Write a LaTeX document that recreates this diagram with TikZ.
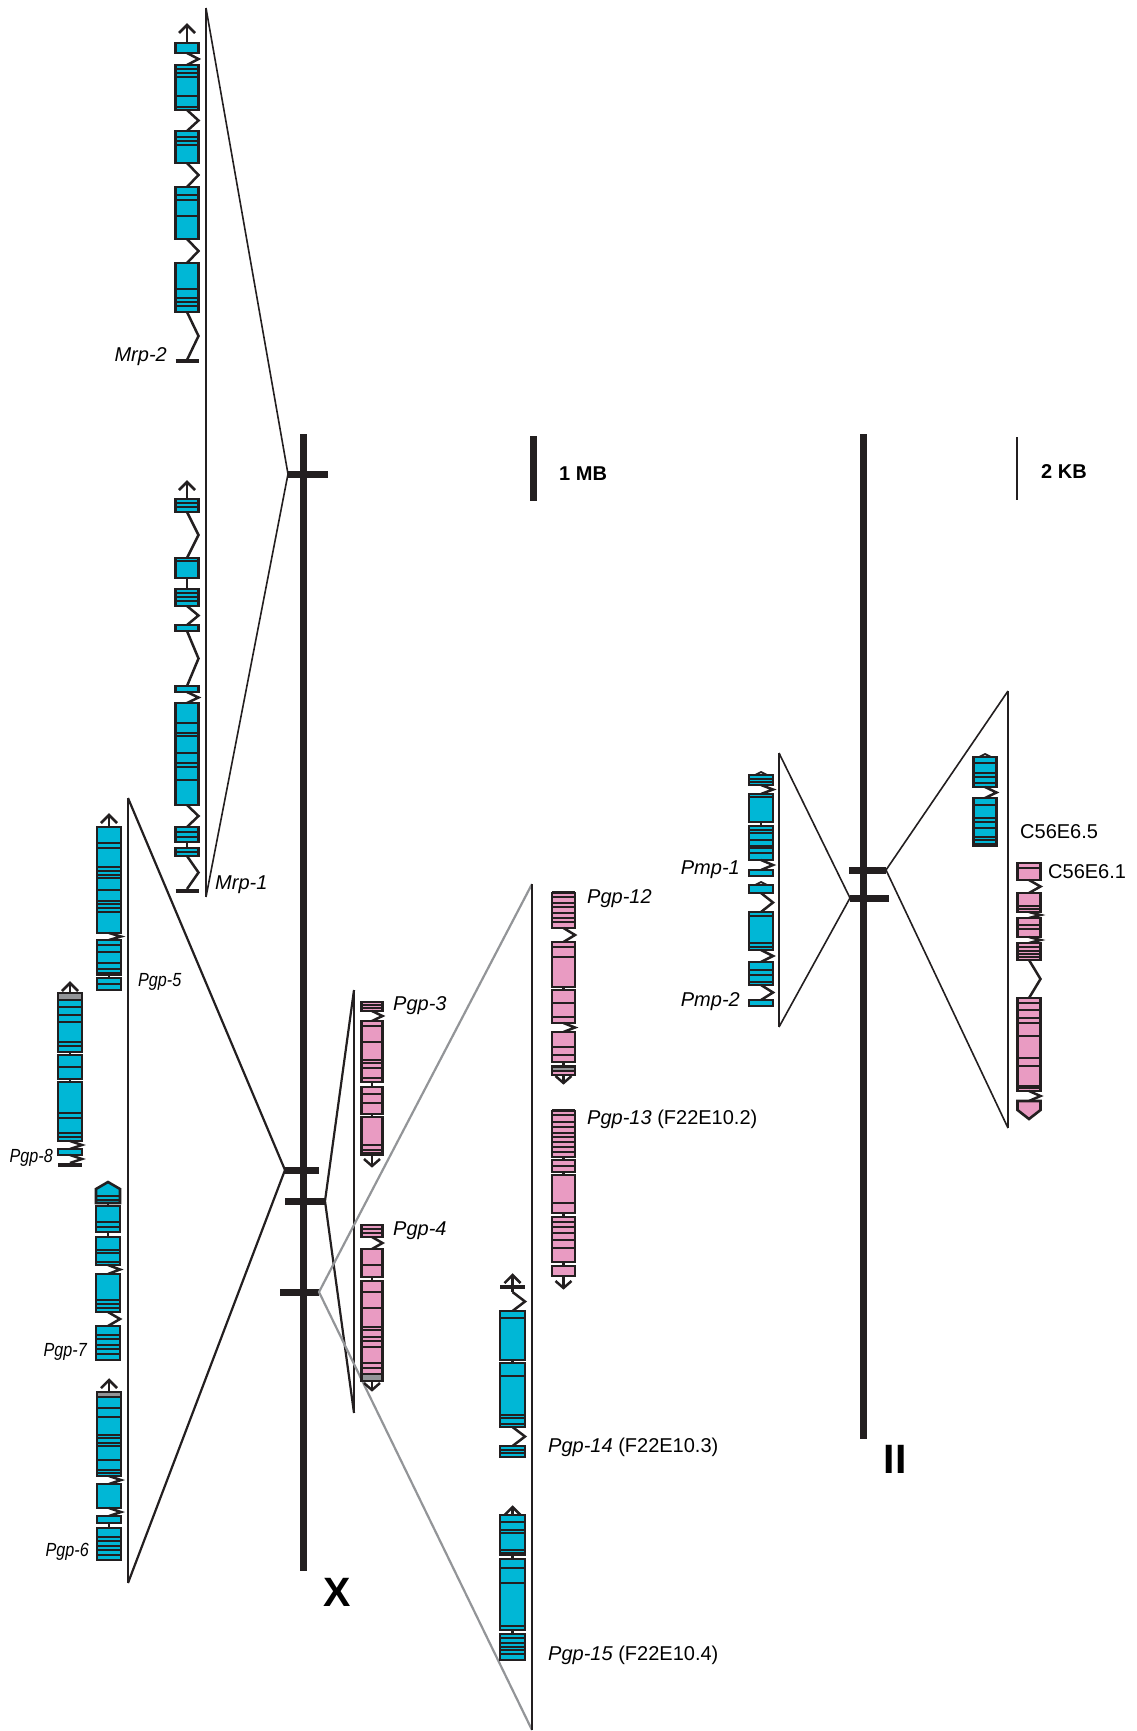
\documentclass[tikz,border=0pt]{standalone}
\usepackage{fontspec}
\setmainfont{Liberation Sans}
\definecolor{cy}{HTML}{00B7D6}
\definecolor{pk}{HTML}{E99BC2}
\definecolor{dk}{HTML}{231F20}
\definecolor{gr}{HTML}{939598}
\tikzset{
  chrom/.style={line width=7pt, draw=dk},
  tickbar/.style={line width=7pt, draw=dk},
  tri/.style={line width=1.6pt, draw=dk},
  trivert/.style={line width=2.2pt, draw=dk},
  graytri/.style={line width=2.2pt, draw=gr},
  exonline/.style={line width=2.6pt, draw=dk, line join=miter},
  stripe/.style={line width=1.9pt, draw=dk},
  intronline/.style={line width=2.5pt, draw=dk, line join=miter},
  lab/.style={font=\fontsize{20}{22}\selectfont\itshape, inner sep=0pt},
  labu/.style={font=\fontsize{20}{22}\selectfont, inner sep=0pt},
  labs/.style={font=\fontsize{19}{21}\selectfont\itshape, inner sep=0pt},
  scalelab/.style={font=\fontsize{20}{22}\selectfont\bfseries, inner sep=0pt},
  chromlab/.style={font=\fontsize{41}{44}\selectfont\bfseries, inner sep=0pt}
}
\def\gcol{cy}
\def\ghw{12}
\newcommand\gex[4]{%
  \fill[fill=\gcol] ({#1-\ghw},#2) rectangle ({#1+\ghw},#3);
  \foreach \sy in {#4}{\draw[stripe] ({#1-\ghw},\sy) -- ({#1+\ghw},\sy);}
  \draw[exonline] ({#1-\ghw},#2) rectangle ({#1+\ghw},#3);}
\newcommand\gexn[3]{%
  \filldraw[exonline, fill=\gcol] ({#1-\ghw},#2) rectangle ({#1+\ghw},#3);}
\newcommand\gband[3]{%
  \filldraw[exonline, fill=gr] ({#1-\ghw},#2) rectangle ({#1+\ghw},#3);}
\newcommand\gint[3]{\draw[intronline] (#1,#2) -- ({#1+\ghw},{(#2+#3)/2}) -- (#1,#3);}
\newcommand\gln[3]{\draw[intronline] (#1,#2) -- (#1,#3);}
\newcommand\gup[3]{%
  \draw[intronline] (#1,#3) -- (#1,#2);
  \draw[intronline] ({#1-8},{#2+8}) -- (#1,#2) -- ({#1+8},{#2+8});}
\newcommand\gdn[3]{%
  \draw[intronline] (#1,#2) -- (#1,#3);
  \draw[intronline] ({#1-8},{#3-7}) -- (#1,#3) -- ({#1+8},{#3-7});}
\newcommand\gsm[2]{%
  \draw[intronline, line width=1.8pt] ({#1-6},{#2+3}) -- (#1,#2) -- ({#1+6},{#2+3});}
\newcommand\gbar[2]{\draw[line width=4.5pt, draw=dk] ({#1-\ghw},#2) -- ({#1+\ghw},#2);}
\newcommand\gpentup[5]{%
  \fill[fill=\gcol] ({#1-\ghw},#4) -- ({#1-\ghw},#3) -- (#1,#2) -- ({#1+\ghw},#3) -- ({#1+\ghw},#4) -- cycle;
  \foreach \sy in {#5}{\draw[stripe] ({#1-\ghw},\sy) -- ({#1+\ghw},\sy);}
  \draw[exonline] ({#1-\ghw},#4) -- ({#1-\ghw},#3) -- (#1,#2) -- ({#1+\ghw},#3) -- ({#1+\ghw},#4) -- cycle;}
\newcommand\gpentdn[4]{%
  \filldraw[exonline, fill=\gcol] ({#1-\ghw},#2) -- ({#1-\ghw},#3) -- (#1,#4) -- ({#1+\ghw},#3) -- ({#1+\ghw},#2) -- cycle;}
\begin{document}
\begin{tikzpicture}[x=1pt,y=-1pt]
\useasboundingbox (0,0) rectangle (1136,1731);
% chromosomes
\coordinate (Xtop) at (303,434);
\coordinate (Xbot) at (303,1571);
\coordinate (IItop) at (863,434);
\coordinate (IIbot) at (863,1439);
\draw[chrom] (Xtop) -- (Xbot);
\draw[chrom] (IItop) -- (IIbot);
% ticks on X
\coordinate (t1L) at (288,474);  \coordinate (t1R) at (328,474);
\coordinate (t2L) at (285,1170); \coordinate (t2R) at (319,1170);
\coordinate (t3L) at (285,1201); \coordinate (t3R) at (325,1201);
\coordinate (t4L) at (280,1292); \coordinate (t4R) at (319,1292);
\draw[tickbar] (t1L) -- (t1R);
\draw[tickbar] (t2L) -- (t2R);
\draw[tickbar] (t3L) -- (t3R);
\draw[tickbar] (t4L) -- (t4R);
% ticks on II
\coordinate (u1L) at (849,870); \coordinate (u1R) at (886,870);
\coordinate (u2L) at (850,898); \coordinate (u2R) at (889,898);
\draw[tickbar] (u1L) -- (u1R);
\draw[tickbar] (u2L) -- (u2R);
% scale bars
\coordinate (s1a) at (533,436); \coordinate (s1b) at (533,501);
\draw[line width=7pt, draw=dk] (s1a) -- (s1b);
\coordinate (s2a) at (1017,437); \coordinate (s2b) at (1017,500);
\draw[line width=2pt, draw=dk] (s2a) -- (s2b);
\node[scalelab, anchor=west] (mb) at (559,474) {1 MB};
\node[scalelab, anchor=west] (kb) at (1041,472) {2 KB};
\node[chromlab] (lX) at (337,1592) {X};
\node[chromlab] (lII) at (895,1459) {II};
% triangles
\coordinate (mA) at (206,8); \coordinate (mB) at (206,897);
\draw[trivert] (mA) -- (mB);
\draw[tri] (mA) -- (t1L) -- (mB);
\coordinate (pA) at (128,798); \coordinate (pB) at (128,1583);
\draw[trivert] (pA) -- (pB);
\draw[line width=2.2pt, draw=dk] (pA) -- (t2L) -- (pB);
\coordinate (qA) at (354,990); \coordinate (qB) at (354,1413);
\draw[trivert] (qA) -- (qB);
\draw[line width=2.2pt, draw=dk] (qA) -- (t3R) -- (qB);
\coordinate (rA) at (532,884); \coordinate (rB) at (532,1730);
\draw[graytri] (rA) -- (t4R) -- (rB);
\draw[trivert] (rA) -- (rB);
\coordinate (vA) at (779,753); \coordinate (vB) at (779,1027);
\draw[trivert] (vA) -- (vB);
\draw[tri] (vA) -- (u2L) -- (vB);
\coordinate (wA) at (1008,691); \coordinate (wB) at (1008,1128);
\draw[trivert] (wA) -- (wB);
\draw[tri] (wA) -- (u1R) -- (wB);
% ===== cyan genes =====
\def\gcol{cy}\def\ghw{11.5}
% Mrp-2
\gup{187}{25}{43}
\gexn{187}{43}{53}
\gint{187}{53}{65}
\gex{187}{65}{110}{69,73,77,96,107}
\gint{187}{110}{131}
\gex{187}{131}{163}{137,141,145}
\gint{187}{163}{187}
\gex{187}{187}{239}{195,200,216}
\gint{187}{239}{263}
\gex{187}{263}{312}{289,298,302,306}
\gint{187}{312}{360}
\gbar{187}{361}
% Mrp-1
\gup{187}{482}{499}
\gex{187}{499}{512}{503,507}
\gint{187}{512}{558}
\gex{187}{558}{578}{561}
\gln{187}{578}{589}
\gex{187}{589}{606}{593,597,601}
\gint{187}{606}{625}
\gexn{187}{625}{631}
\gint{187}{631}{686}
\gexn{187}{686}{692}
\gint{187}{692}{703}
\gex{187}{703}{805}{723,733,736,753,763,767,780}
\gint{187}{805}{827}
\gex{187}{827}{842}{832,837}
\gln{187}{842}{848}
\gex{187}{848}{856}{852}
\gint{187}{856}{889}
\gbar{187}{891}
% Pgp-5
\def\ghw{12}
\gup{109}{815}{827}
\gex{109}{827}{933}{843,848,867,871,875,878,890,901,904,908,912}
\gint{109}{933}{940}
\gex{109}{940}{975}{945,952,963,969,973}
\gln{109}{975}{978}
\gex{109}{978}{990}{984}
% Pgp-8
\gup{70}{983}{993}
\gex{70}{993}{1052}{1000,1007,1015,1022,1042,1046}
\gband{70}{993}{1000}
\gln{70}{1052}{1055}
\gex{70}{1055}{1079}{1067}
\gln{70}{1079}{1082}
\gex{70}{1082}{1141}{1113,1118,1133,1137}
\gint{70}{1141}{1149}
\gexn{70}{1149}{1155}
\gint{70}{1155}{1163}
\gbar{70}{1165}
% Pgp-7
\gpentup{108}{1182}{1189}{1203}{1196,1200}
\gln{108}{1203}{1206}
\gex{108}{1206}{1232}{1222,1227}
\gln{108}{1232}{1237}
\gex{108}{1237}{1265}{1250,1253,1262}
\gint{108}{1265}{1274}
\gex{108}{1274}{1312}{1300,1304,1308}
\gint{108}{1312}{1326}
\gex{108}{1326}{1360}{1335,1339,1345,1349,1354}
% Pgp-6
\gup{109}{1380}{1392}
\gex{109}{1392}{1476}{1408,1417,1435,1438,1443,1446,1460,1470,1473}
\gband{109}{1392}{1397}
\gint{109}{1476}{1484}
\gexn{109}{1484}{1508}
\gint{109}{1508}{1516}
\gexn{109}{1516}{1523}
\gln{109}{1523}{1528}
\gex{109}{1528}{1560}{1537,1541,1546,1550,1555}
% Pgp-14
\def\ghw{12.5}
\gup{512.5}{1275}{1292}
\gbar{512.5}{1287}
\gint{512.5}{1292}{1311}
\gex{512.5}{1311}{1360}{1318}
\gln{512.5}{1360}{1363}
\gex{512.5}{1363}{1427}{1376,1415,1418,1424}
\gint{512.5}{1427}{1446}
\gex{512.5}{1446}{1457}{1450,1453}
% Pgp-15
\gup{512.5}{1507}{1515}
\gex{512.5}{1515}{1555}{1522,1530,1533,1550,1553}
\gln{512.5}{1555}{1559}
\gex{512.5}{1559}{1630}{1568,1583,1626}
\gln{512.5}{1630}{1634}
\gex{512.5}{1634}{1660}{1638,1643,1647,1650,1654}
% Pmp-1
\def\ghw{12}
\gsm{761}{772}
\gex{761}{775}{785}{779,782}
\gint{761}{785}{794}
\gex{761}{794}{822}{797}
\gln{761}{822}{826}
\gex{761}{826}{848}{830,833,840,846}
\gex{761}{848}{860}{853}
\gint{761}{860}{870}
\gexn{761}{870}{876}
% Pmp-2
\gsm{761}{882}
\gexn{761}{885}{893}
\gint{761}{893}{912}
\gex{761}{912}{950}{916,943,947}
\gint{761}{950}{962}
\gex{761}{962}{985}{970,975,982}
\gint{761}{985}{1000}
\gexn{761}{1000}{1006}
% C56E6.5
\def\ghw{11.5}
\gsm{985}{754}
\gex{985}{757}{787}{763,773,777,783}
\gint{985}{787}{798}
\gex{985}{798}{846}{805,818,822,828,837,840,844}
% ===== pink genes =====
\def\gcol{pk}
% C56E6.1
\gex{1029}{863}{880}{868}
\gint{1029}{880}{893}
\gex{1029}{893}{912}{906,909}
\gint{1029}{912}{918}
\gex{1029}{918}{937}{925,929}
\gint{1029}{937}{943}
\gex{1029}{943}{960}{947,951,954,957}
\gint{1029}{960}{998}
\gex{1029}{998}{1091}{1003,1010,1018,1023,1036,1058,1066,1086,1088}
\gint{1029}{1091}{1101}
\gpentdn{1029}{1101}{1110}{1119}
% Pgp-3
\def\ghw{10.5}
\gex{372}{1002}{1011}{1005,1008}
\gint{372}{1011}{1021}
\gex{372}{1021}{1082}{1026,1042,1060,1063,1068,1078}
\gln{372}{1082}{1087}
\gex{372}{1087}{1114}{1094,1103}
\gln{372}{1114}{1117}
\gex{372}{1117}{1155}{1145,1150,1153}
\gdn{372}{1155}{1166}
% Pgp-4
\gex{372}{1225}{1237}{1229,1233}
\gint{372}{1237}{1249}
\gex{372}{1249}{1277}{1265}
\gln{372}{1277}{1281}
\gex{372}{1281}{1381}{1292,1308,1327,1330,1337,1341,1347,1363,1368}
\gband{372}{1374}{1381}
\gdn{372}{1381}{1390}
% Pgp-12
\def\ghw{11.5}
\gbar{563.5}{893}
\gex{563.5}{893}{928}{897,903,907,913,918,922}
\gint{563.5}{928}{942}
\gex{563.5}{942}{987}{947,957}
\gln{563.5}{987}{990}
\gex{563.5}{990}{1023}{1003,1017}
\gint{563.5}{1023}{1032}
\gex{563.5}{1032}{1062}{1047,1055}
\gln{563.5}{1062}{1066}
\gexn{563.5}{1066}{1075}
\gband{563.5}{1067}{1071}
\gdn{563.5}{1075}{1083}
% Pgp-13
\gbar{563.5}{1111}
\gex{563.5}{1111}{1157}{1115,1122,1127,1133,1137,1142,1147,1152}
\gln{563.5}{1157}{1160}
\gex{563.5}{1160}{1172}{1166}
\gln{563.5}{1172}{1175}
\gexn{563.5}{1175}{1203}
\gexn{563.5}{1203}{1213}
\gln{563.5}{1213}{1217}
\gex{563.5}{1217}{1262}{1222,1227,1233,1240,1248}
\gln{563.5}{1262}{1266}
\gexn{563.5}{1266}{1276}
\gdn{563.5}{1276}{1288}
% ===== labels =====
\node[lab, anchor=east] (lMrp2) at (167,357) {Mrp-2};
\node[lab, anchor=west] (lMrp1) at (215,885) {Mrp-1};
\node[labs, anchor=west] (lP5) at (138,982) {\scalebox{0.85}[1]{Pgp-5}};
\node[labs, anchor=east] (lP8) at (53,1158) {\scalebox{0.85}[1]{Pgp-8}};
\node[labs, anchor=east] (lP7) at (87,1352) {\scalebox{0.85}[1]{Pgp-7}};
\node[labs, anchor=east] (lP6) at (89,1552) {\scalebox{0.85}[1]{Pgp-6}};
\node[lab, anchor=west] (lP3) at (393,1006) {Pgp-3};
\node[lab, anchor=west] (lP4) at (393,1231) {Pgp-4};
\node[lab, anchor=west] (lP12) at (587,899) {Pgp-12};
\node[labu, anchor=west] (lP13) at (587,1119) {\textit{Pgp-13} (F22E10.2)};
\node[labu, anchor=west] (lP14) at (548,1447) {\textit{Pgp-14} (F22E10.3)};
\node[labu, anchor=west] (lP15) at (548,1655) {\textit{Pgp-15} (F22E10.4)};
\node[lab, anchor=east] (lPm1) at (740,870) {Pmp-1};
\node[lab, anchor=east] (lPm2) at (740,1002) {Pmp-2};
\node[labu, anchor=west] (lC5) at (1020,832) {C56E6.5};
\node[labu, anchor=west] (lC1) at (1048,872) {C56E6.1};
\end{tikzpicture}
\end{document}
